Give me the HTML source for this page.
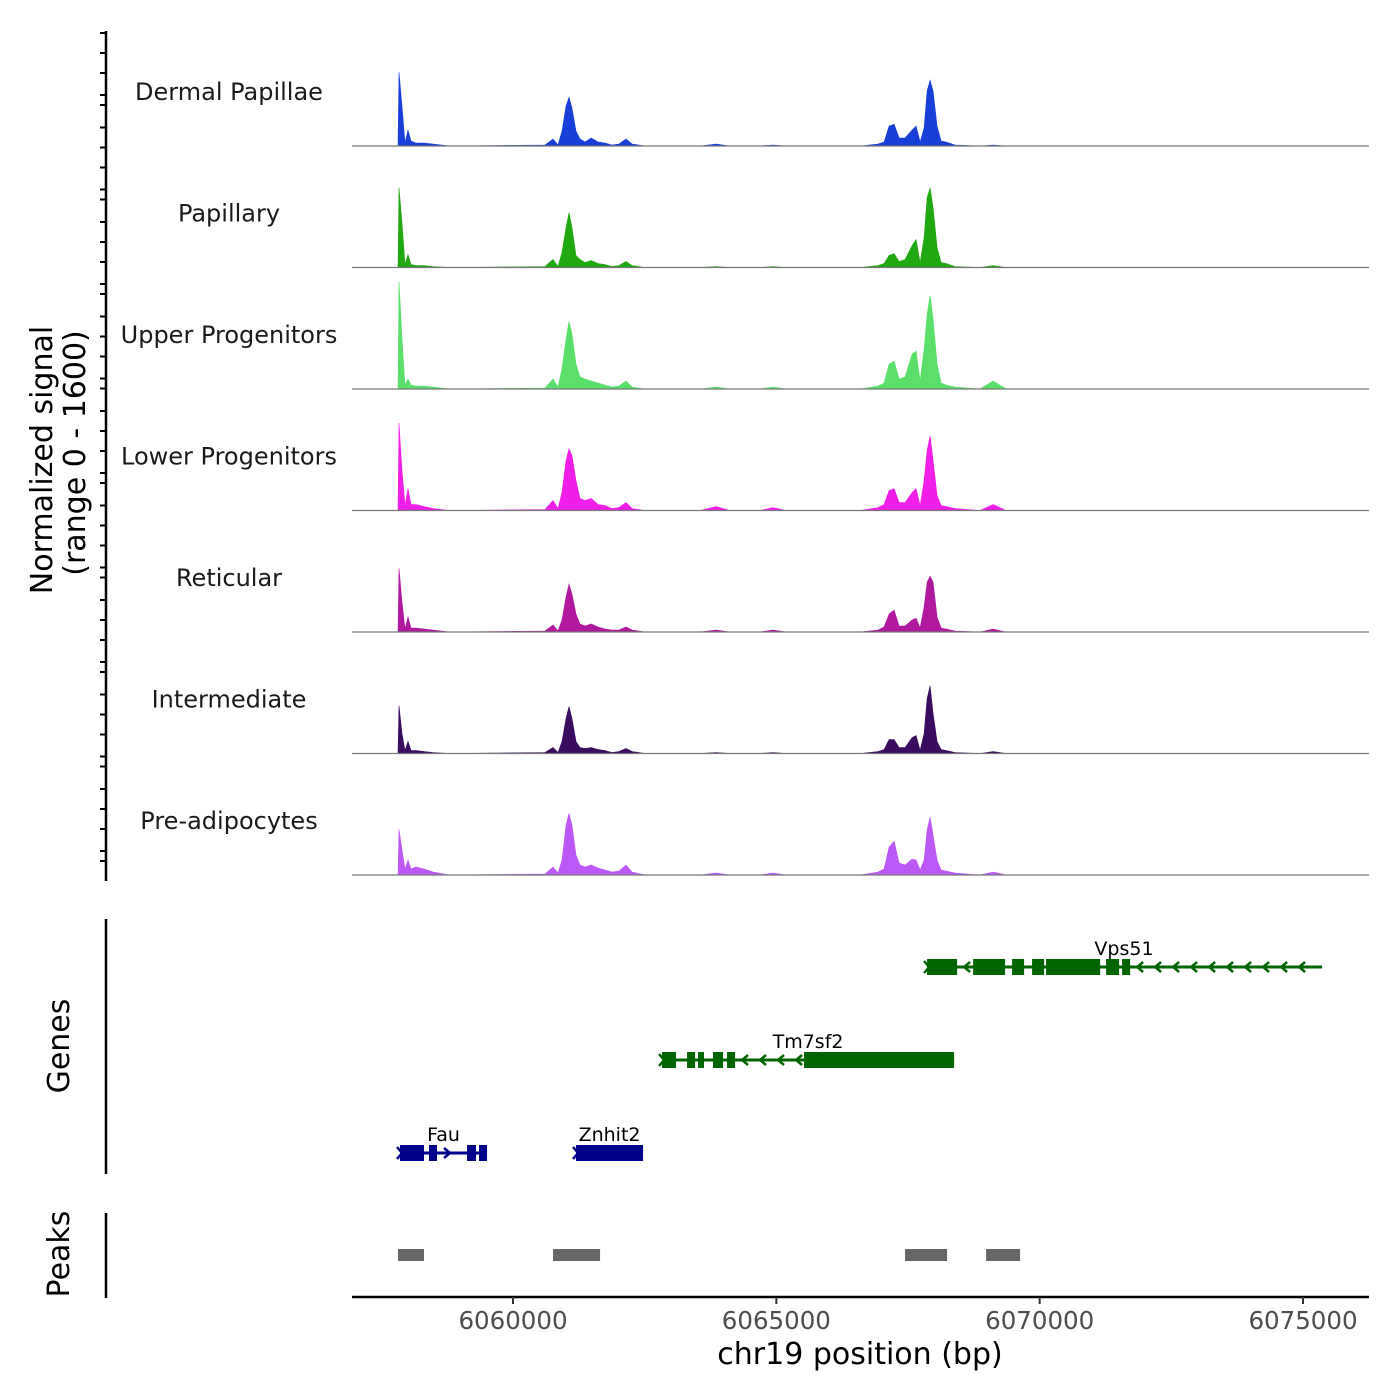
<!DOCTYPE html>
<html><head><meta charset="utf-8">
<style>
html,body{margin:0;padding:0;background:#fff;}
svg{display:block;font-family:"DejaVu Sans","Liberation Sans",sans-serif;}
</style></head>
<body>
<svg id="chart" width="1400" height="1400" viewBox="0 0 1400 1400" xmlns="http://www.w3.org/2000/svg">
<g id="tracks"></g>
<g id="genes"></g>
<g id="peaks"></g>
<g id="axes"></g>
<text transform="translate(52,460) rotate(-90)" text-anchor="middle" font-size="30" fill="#000">Normalized signal</text>
<text transform="translate(85,453) rotate(-90)" text-anchor="middle" font-size="30" fill="#000">(range 0 - 1600)</text>
<text transform="translate(69,1046) rotate(-90)" text-anchor="middle" font-size="30" fill="#000">Genes</text>
<text transform="translate(69,1254) rotate(-90)" text-anchor="middle" font-size="30" fill="#000">Peaks</text>
<text x="860" y="1364" text-anchor="middle" font-size="30" fill="#000">chr19 position (bp)</text>
</svg>
<script>
const positions = [6057817,6057836,6057892,6057949,6058006,6058063,6058158,6058310,6058481,6058804,6060608,6060760,6060855,6060931,6061007,6061064,6061121,6061197,6061273,6061368,6061482,6061615,6061747,6061880,6062013,6062146,6062260,6062507,6063552,6063855,6064121,6064691,6064938,6065185,6066590,6066932,6067046,6067141,6067236,6067331,6067444,6067577,6067653,6067729,6067805,6067862,6067919,6067976,6068052,6068128,6068223,6068394,6068869,6069116,6069362,6075325];
const trackNames = ["Dermal Papillae","Papillary","Upper Progenitors","Lower Progenitors","Reticular","Intermediate","Pre-adipocytes"];
const trackColors = ["#1840d8","#20a810","#5ae06a","#f01ee8","#b0189e","#3a0b5e","#bb58f6"];
const dermalPapillae = [0,74,40,3,16,5,3,3,2,0,1,7,1,15,40,49,38,15,7,4,8,4,3,1,2,7,2,0,0,2,0,0,1,0,0,2,4,20,22,8,8,16,20,4,18,55,66,55,20,5,4,1,0,1,0,0];
const papillary = [0,80,45,3,13,3,2,2,1,0,1,8,1,15,40,55,40,12,8,5,7,4,3,1,2,6,2,0,0,1,0,0,1,0,0,2,4,12,14,6,8,22,28,5,30,70,80,60,20,5,4,1,0,2,0,0];
const upperProgenitors = [0,108,50,4,10,4,3,3,2,0,1,10,2,20,50,68,55,25,12,10,8,6,4,2,3,8,2,0,0,2,0,0,2,0,0,3,6,25,28,10,12,35,38,8,40,75,94,70,25,6,4,2,0,8,0,0];
const lowerProgenitors = [0,88,40,5,22,6,6,4,2,0,1,10,2,18,50,62,55,30,12,10,12,6,5,2,3,8,2,0,0,4,0,0,3,0,0,3,6,20,22,8,8,18,22,5,30,60,75,50,15,5,4,2,0,6,0,0];
const reticular = [0,64,30,3,15,4,4,3,2,0,1,7,1,12,35,48,38,18,8,6,8,5,3,2,2,5,2,0,0,2,0,0,2,0,0,2,5,18,22,6,6,12,14,4,25,50,56,50,15,4,3,1,0,3,0,0];
const intermediate = [0,48,20,3,12,3,3,2,1,0,1,6,1,12,35,47,35,12,6,5,6,4,3,1,2,5,2,0,0,1,0,0,1,0,0,2,4,14,14,6,6,16,18,3,20,55,68,40,12,4,3,1,0,2,0,0];
const preAdipocytes = [0,46,25,6,15,6,8,6,3,0,1,8,2,15,50,62,50,20,10,8,10,7,5,3,4,10,3,0,0,2,0,0,2,0,0,3,6,28,34,12,10,16,15,5,15,45,58,40,15,5,4,2,0,3,0,0];
const xTicks = [6060000,6065000,6070000,6075000];
const xTickLabels = ["6060000","6065000","6070000","6075000"];
const geneNames = ["Vps51","Tm7sf2","Fau","Znhit2"];
const geneStrands = ["-","-","+","+"];
const geneStarts = [6067862,6062830,6057855,6061197];
const geneEnds = [6075363,6068375,6059507,6062469];
const geneExons = [
 [[6067862,6068432],[6068736,6069343],[6069476,6069704],[6069856,6070084],[6070122,6071148],[6071261,6071508],[6071565,6071717]],
 [[6062830,6063096],[6063305,6063457],[6063514,6063627],[6063798,6063988],[6064064,6064216],[6065526,6068375]],
 [[6057855,6058310],[6058405,6058557],[6059127,6059298],[6059355,6059507]],
 [[6061197,6062469]]
];
const peakStarts = [6057817,6060760,6067444,6068983];
const peakEnds = [6058310,6061653,6068242,6069628];

const NS="http://www.w3.org/2000/svg";
const X0=352,X1=1369,D0=6056943,D1=6076253;
const xs=v=>X0+(v-D0)/(D1-D0)*(X1-X0);
const yMax=122, trackH=121.5, base0=146;
function mk(tag,attrs,parent){const e=document.createElementNS(NS,tag);for(const k in attrs)e.setAttribute(k,attrs[k]);parent.appendChild(e);return e;}
const series=[dermalPapillae,papillary,upperProgenitors,lowerProgenitors,reticular,intermediate,preAdipocytes];
const gT=document.getElementById('tracks');
series.forEach((vals,i)=>{
  const b=base0+i*trackH;
  const ys=v=>b-v/yMax*trackH;
  let d=`M${xs(positions[0])},${b}`;
  vals.forEach((v,j)=>{d+=`L${xs(positions[j]).toFixed(1)},${ys(v).toFixed(1)}`;});
  d+=`L${xs(positions[positions.length-1])},${b}Z`;
  const p=mk('path',{d:d,fill:trackColors[i],stroke:trackColors[i],'stroke-width':0.6},gT);
  
  
  const l=mk('line',{x1:X0,x2:X1,y1:b,y2:b,stroke:'#777','stroke-width':1.2},gT);
  
  
  const t=mk('text',{x:229,y:b-46,'text-anchor':'middle','font-size':24,fill:'#1a1a1a'},gT);
  t.textContent=trackNames[i];
  
  
});
const gG=document.getElementById('genes');
const geneY=[967,1060,1153];
const rowOf=[0,1,2,2];
geneNames.forEach((n,i)=>{
  const y=geneY[rowOf[i]];
  const col=geneStrands[i]==='-'?'#006400':'#00008b';
  const g=mk('g',{},gG);
  
  
  mk('line',{x1:xs(geneStarts[i]),x2:xs(geneEnds[i]),y1:y,y2:y,stroke:col,'stroke-width':3},g);
  const ex=geneExons[i];
  for(let k=0;k<ex.length;k++){
    const a=xs(ex[k][1]), bnd=k+1<ex.length?xs(ex[k+1][0]):xs(geneEnds[i]);
    for(let x=a+10;x<bnd-4;x+=18){
      const dd=geneStrands[i]==='-'?`M${x+3},${y-5}L${x-3},${y}L${x+3},${y+5}`:`M${x-3},${y-5}L${x+3},${y}L${x-3},${y+5}`;
      mk('path',{d:dd,fill:'none',stroke:col,'stroke-width':2.5},g);
    }
  }
  ex.forEach(e=>{mk('rect',{x:xs(e[0]),y:y-8,width:Math.max(3,xs(e[1])-xs(e[0])),height:16,fill:col},g);});
  const sx=xs(geneStarts[i]);
  mk('path',{d:`M${sx-3},${y-6}L${sx+2},${y}L${sx-3},${y+6}`,fill:'none',stroke:col,'stroke-width':2.5},g);
  const t=mk('text',{x:(xs(geneStarts[i])+xs(geneEnds[i]))/2,y:y-12,'text-anchor':'middle','font-size':19,fill:'#000'},g);
  if(i===0)t.setAttribute('x',1124);
  t.textContent=n;
});
const gP=document.getElementById('peaks');
peakStarts.forEach((s,i)=>{
  const r=mk('rect',{x:xs(s),y:1249,width:xs(peakEnds[i])-xs(s),height:12,fill:'#666'},gP);
  
  
});
const gA=document.getElementById('axes');
mk('line',{x1:106,x2:106,y1:31,y2:881,stroke:'#000','stroke-width':2.5},gA);
const off=[0,20,40,62,72];
for(let p=0;p<10;p++)off.forEach(o=>{const y=33+p*94.5+o;if(y<=879)mk('line',{x1:100,x2:106,y1:y,y2:y,stroke:'#000','stroke-width':2},gA);});
mk('line',{x1:106,x2:106,y1:919,y2:1174,stroke:'#000','stroke-width':2.5},gA);
mk('line',{x1:106,x2:106,y1:1213,y2:1298,stroke:'#000','stroke-width':2.5},gA);
mk('line',{x1:352,x2:1369,y1:1297,y2:1297,stroke:'#000','stroke-width':2.5},gA);
xTicks.forEach((v,i)=>{
  const x=xs(v);
  mk('line',{x1:x,x2:x,y1:1297,y2:1304,stroke:'#333','stroke-width':2},gA);
  const t=mk('text',{x:x,y:1329,'text-anchor':'middle','font-size':24.5,fill:'#4d4d4d'},gA);
  t.textContent=xTickLabels[i];
  
  
});
</script>
</body></html>
